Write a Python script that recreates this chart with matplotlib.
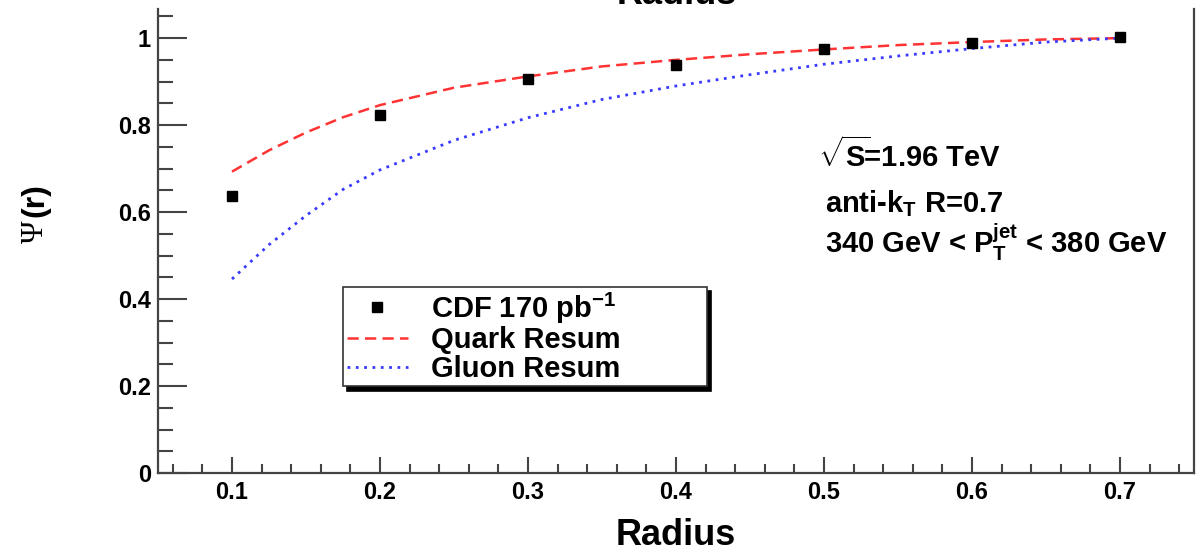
import matplotlib
matplotlib.use("Agg")
import matplotlib.pyplot as plt
from matplotlib.ticker import MultipleLocator

plt.rcParams["font.family"] = ["Liberation Sans", "DejaVu Sans"]
plt.rcParams["font.weight"] = "bold"
plt.rcParams["axes.labelweight"] = "bold"
plt.rcParams["mathtext.fontset"] = "custom"
plt.rcParams["mathtext.rm"] = "Liberation Sans:bold"
plt.rcParams["mathtext.it"] = "Liberation Sans:bold"
plt.rcParams["mathtext.bf"] = "Liberation Sans:bold"

# CDF measurement
radius = [0.1, 0.2, 0.3, 0.4, 0.5, 0.6, 0.7]
psi_cdf = [0.638, 0.824, 0.905, 0.938, 0.975, 0.989, 1.002]

# Resummed predictions
r_th = [0.10, 0.125, 0.15, 0.175, 0.20, 0.25, 0.30, 0.35, 0.40, 0.45, 0.50, 0.55, 0.60, 0.65, 0.70]
psi_quark = [0.693, 0.742, 0.783, 0.818, 0.846, 0.886, 0.912, 0.935, 0.950, 0.963, 0.974, 0.984, 0.991, 0.997, 1.000]
psi_gluon = [0.446, 0.525, 0.592, 0.652, 0.697, 0.765, 0.817, 0.859, 0.890, 0.916, 0.940, 0.959, 0.976, 0.991, 1.000]

fig = plt.figure(figsize=(11.99, 5.52), dpi=100)
ax = fig.add_axes([158 / 1199, 79 / 552, 1036 / 1199, 464 / 552])

ax.plot(r_th, psi_quark, color="#ff3333", ls=(0, (4.5, 2.5)), lw=1.8, label="Quark Resum")
ax.plot(r_th, psi_gluon, color="#3a3aff", ls=(0, (1, 2)), lw=2.0, label="Gluon Resum")
ax.plot(radius, psi_cdf, "s", color="black", ms=7.5, label="CDF 170 pb$^{-1}$")

ax.set_xlim(0.05, 0.75)
ax.set_ylim(0, 1.067)
ax.xaxis.set_major_locator(MultipleLocator(0.1))
ax.xaxis.set_minor_locator(MultipleLocator(0.02))
ax.yaxis.set_major_locator(MultipleLocator(0.2))
ax.yaxis.set_minor_locator(MultipleLocator(0.05))
ax.set_yticks([0, 0.2, 0.4, 0.6, 0.8, 1.0])
ax.set_yticklabels(["0", "0.2", "0.4", "0.6", "0.8", "1"])

ax.spines["top"].set_visible(False)
for s in ["left", "bottom", "right"]:
    ax.spines[s].set_linewidth(1.6)
    ax.spines[s].set_color("#444444")

ax.tick_params(axis="both", which="both", direction="in", color="#444444", width=1.5,
               labelsize=17)
ax.tick_params(axis="y", which="major", length=21, pad=5)
ax.tick_params(axis="y", which="minor", length=11)
ax.tick_params(axis="x", which="major", length=11.5, pad=6)
ax.tick_params(axis="x", which="minor", length=6.5)
ax.tick_params(axis="y", right=False)

ax.set_xlabel("Radius", fontsize=26, fontweight="bold")
ax.xaxis.set_label_coords(0.5, -0.098)

# y label: serif Psi followed by bold (r)
fig.text(35 / 1199, 1 - 232 / 552, "Ψ", rotation=90, ha="center", va="center",
         fontsize=22, family="Liberation Serif", weight="normal")
fig.text(35 / 1199, 1 - 200 / 552, "(r)", rotation=90, ha="center", va="center",
         fontsize=23)

# title, mostly above the canvas
fig.text(677 / 1199, 1 - 4 / 552, "Radius", ha="center", va="baseline", fontsize=26)

fig.text(818 / 1199, 1 - 167 / 552, r"$\sqrt{S}\!$=1.96 TeV", fontsize=21, va="baseline")
fig.text(825 / 1199, 1 - 212 / 552, r"anti-k$_{T}$ R=0.7", fontsize=21, va="baseline")
fig.text(825 / 1199, 1 - 253 / 552, r"340 GeV < P$_{T}^{jet}$ < 380 GeV", fontsize=21,
         va="baseline")

handles, labels = ax.get_legend_handles_labels()
order = [2, 0, 1]
leg = ax.legend([handles[i] for i in order], [labels[i] for i in order],
                loc="upper left", bbox_to_anchor=(0.1786, 0.4009, 0.3514, 0.0),
                mode="expand", borderaxespad=0, fontsize=21, frameon=True,
                fancybox=False, shadow={"color": "black", "alpha": 1, "ox": 3, "oy": -3},
                handlelength=2.1, handletextpad=0.8, labelspacing=0.02,
                borderpad=0.12, numpoints=1)
leg.get_frame().set_edgecolor("#333333")
leg.get_frame().set_linewidth(1.2)

fig.savefig("out.png", dpi=100)
